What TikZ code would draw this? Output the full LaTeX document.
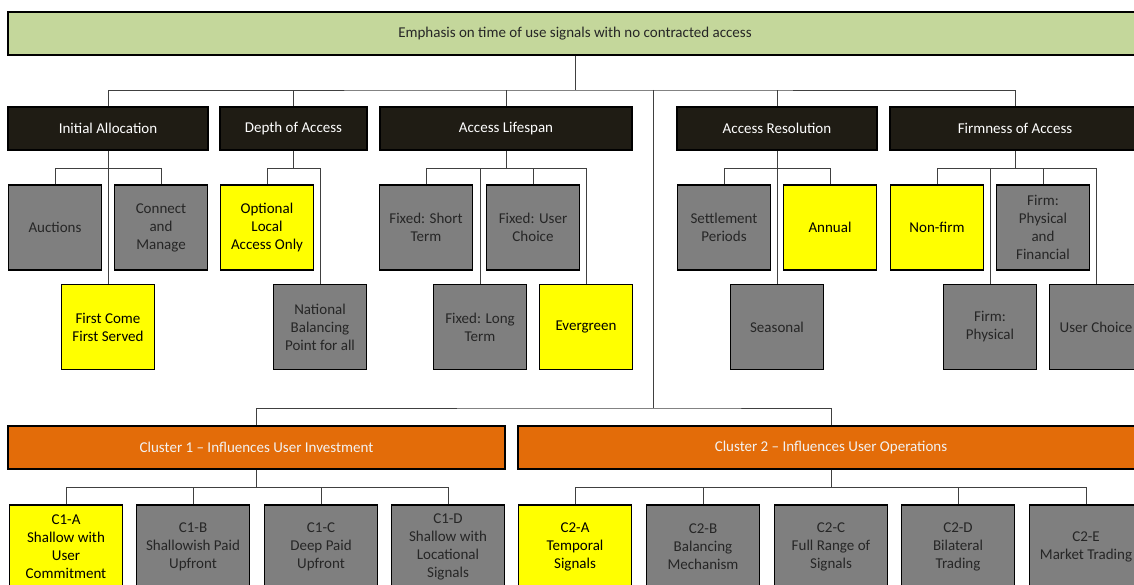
\documentclass[tikz,border=0pt]{standalone}
\usepackage{fontspec}
\setmainfont{Carlito}
\usetikzlibrary{calc}

\definecolor{rootgreen}{HTML}{C4D79B}
\definecolor{catdark}{HTML}{1F1C14}
\definecolor{optgrey}{HTML}{7F7F7F}
\definecolor{pickyellow}{HTML}{FFFF00}
\definecolor{clusterorange}{HTML}{E36C09}
\definecolor{optink}{HTML}{262626}

\tikzset{
  box/.style={draw=black, line width=1.8pt, inner sep=1pt, align=center,
    font=\fontsize{15}{18}\selectfont},
  rootbox/.style={box, fill=rootgreen, minimum width=1134pt, minimum height=43pt, text=black!85},
  catbox/.style={box, fill=catdark, minimum height=43pt, text=white},
  optbox/.style={box, fill=optgrey, minimum width=93pt, minimum height=85pt, text=optink},
  pickbox/.style={optbox, fill=pickyellow, text=black},
  clusterbox/.style={box, fill=clusterorange, minimum height=43pt, text=white!95!black},
  signalbox/.style={optbox, minimum width=113pt, minimum height=84pt},
  picksignal/.style={signalbox, fill=pickyellow, text=black},
  link/.style={draw=black!75, line width=0.9pt},
}

\begin{document}
\begin{tikzpicture}[x=1pt, y=-1pt]
\useasboundingbox (0,0) rectangle (1134,585);
\clip (0,0) rectangle (1134,585);

\node[rootbox] (root) at (575,33.5) {Emphasis on time of use signals with no contracted access};

\node[catbox, minimum width=200pt] (ia) at (108,128.5) {Initial Allocation};
\node[catbox, minimum width=147pt] (da) at (293.5,128.5) {Depth of Access};
\node[catbox, minimum width=252pt] (al) at (506,128.5) {Access Lifespan};
\node[catbox, minimum width=200pt] (ar) at (777,128.5) {Access Resolution};
\node[catbox, minimum width=250pt] (fa) at (1015,128.5) {Firmness of Access};

\node[optbox] (auc) at (55,227.5) {Auctions};
\node[optbox] (cm) at (161,227.5) {Connect\\and\\Manage};
\node[pickbox] (fcfs) at (108,327) {First Come\\First Served};

\node[pickbox] (olao) at (267,227.5) {Optional\\Local\\Access Only};
\node[optbox] (nbp) at (320,327) {National\\Balancing\\Point for all};

\node[optbox] (fst) at (426,227.5) {Fixed: Short\\Term};
\node[optbox] (fuc) at (533,227.5) {Fixed: User\\Choice};
\node[optbox] (flt) at (480,327) {Fixed: Long\\Term};
\node[pickbox] (evg) at (586,327) {Evergreen};

\node[optbox] (sp) at (724,227.5) {Settlement\\Periods};
\node[pickbox] (ann) at (830,227.5) {Annual};
\node[optbox] (sea) at (777,327) {Seasonal};

\node[pickbox] (nf) at (937,227.5) {Non-firm};
\node[optbox] (fpf) at (1043,227.5) {Firm:\\Physical\\and\\Financial};
\node[optbox] (fp) at (990,327) {Firm:\\Physical};
\node[optbox] (uc) at (1096,327) {User Choice};

\node[clusterbox, minimum width=497pt] (c1) at (256.5,447.5) {Cluster 1 – Influences User Investment};
\node[clusterbox, minimum width=626pt] (c2) at (831,447.5) {Cluster 2 – Influences User Operations};

\node[picksignal] (c1a) at (66,547) {C1-A\\Shallow with\\User\\Commitment};
\node[signalbox] (c1b) at (193,547) {C1-B\\Shallowish Paid\\Upfront};
\node[signalbox] (c1c) at (321,547) {C1-C\\Deep Paid\\Upfront};
\node[signalbox] (c1d) at (448,547) {C1-D\\Shallow with\\Locational\\Signals};

\node[picksignal] (c2a) at (575,547) {C2-A\\Temporal\\Signals};
\node[signalbox] (c2b) at (703,547) {C2-B\\Balancing\\Mechanism};
\node[signalbox] (c2c) at (831,547) {C2-C\\Full Range of\\Signals};
\node[signalbox] (c2d) at (958,547) {C2-D\\Bilateral\\Trading};
\node[signalbox] (c2e) at (1086,547) {C2-E\\Market Trading};

\coordinate (rootfork) at (575,90);
\coordinate (catfork) at (0,168);
\coordinate (clusterfork) at (653,408);
\coordinate (subfork) at (0,487);

% root to categories and clusters
\draw[link] (root.south) -- (rootfork);
\draw[link] (ia.north) |- (rootfork) -| (fa.north);
\draw[link] (da.north) -- (da.north |- rootfork);
\draw[link] (al.north) -- (al.north |- rootfork);
\draw[link] (ar.north) -- (ar.north |- rootfork);
\draw[link] (clusterfork |- rootfork) -- (clusterfork);
\draw[link] (c1.north) |- (clusterfork) -| (c2.north);

% categories to options
\draw[link] (ia.south) -- (ia.south |- catfork);
\draw[link] (auc.north) |- (cm.north |- catfork) -- (cm.north);
\draw[link] (fcfs.north) -- (fcfs.north |- catfork);

\draw[link] (da.south) -- (da.south |- catfork);
\draw[link] (olao.north) |- (nbp.north |- catfork) -- (nbp.north);

\draw[link] (al.south) -- (al.south |- catfork);
\draw[link] (fst.north) |- (evg.north |- catfork) -- (evg.north);
\draw[link] (flt.north) -- (flt.north |- catfork);
\draw[link] (fuc.north) -- (fuc.north |- catfork);

\draw[link] (ar.south) -- (ar.south |- catfork);
\draw[link] (sp.north) |- (ann.north |- catfork) -- (ann.north);
\draw[link] (sea.north) -- (sea.north |- catfork);

\draw[link] (fa.south) -- (fa.south |- catfork);
\draw[link] (nf.north) |- (uc.north |- catfork) -- (uc.north);
\draw[link] (fp.north) -- (fp.north |- catfork);
\draw[link] (fpf.north) -- (fpf.north |- catfork);

% clusters to signals
\draw[link] (c1.south) -- (c1.south |- subfork);
\draw[link] (c1a.north) |- (c1d.north |- subfork) -- (c1d.north);
\draw[link] (c1b.north) -- (c1b.north |- subfork);
\draw[link] (c1c.north) -- (c1c.north |- subfork);

\draw[link] (c2.south) -- (c2.south |- subfork);
\draw[link] (c2a.north) |- (c2e.north |- subfork) -- (c2e.north);
\draw[link] (c2b.north) -- (c2b.north |- subfork);
\draw[link] (c2d.north) -- (c2d.north |- subfork);

\end{tikzpicture}
\end{document}
